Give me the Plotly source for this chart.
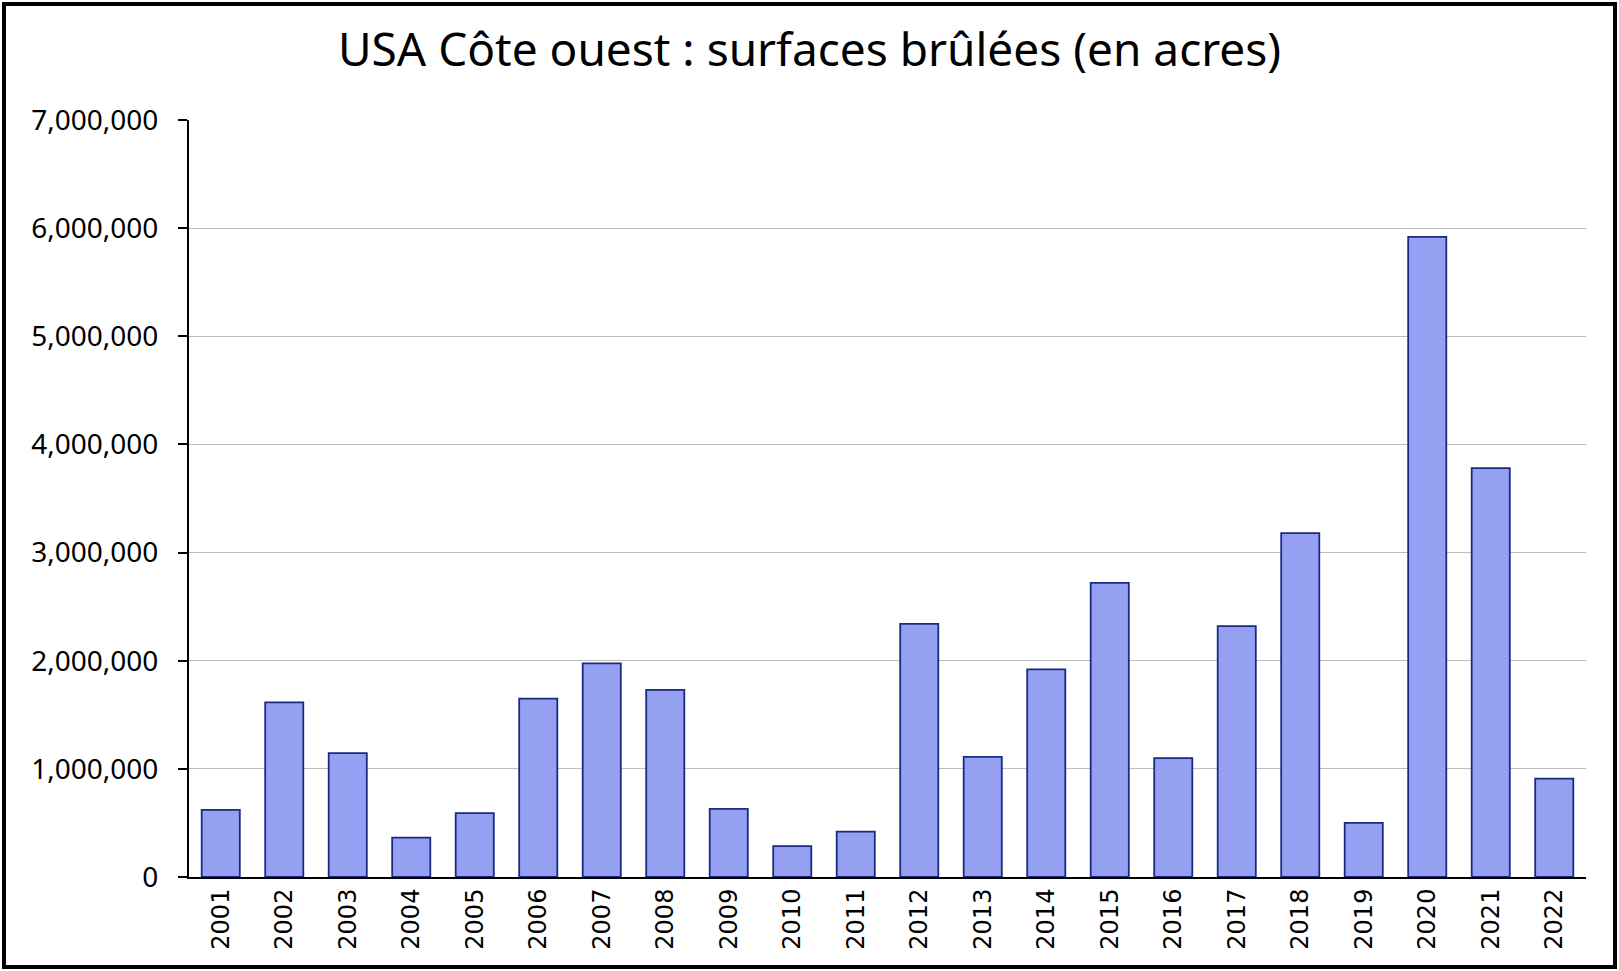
import plotly.graph_objects as go

# Surfaces brûlées sur la côte ouest des USA, en acres
years = [str(y) for y in range(2001, 2023)]
acres = [
    620000, 1615000, 1145000, 365000, 590000, 1650000, 1975000, 1730000,
    630000, 285000, 420000, 2340000, 1110000, 1920000, 2720000, 1100000,
    2320000, 3180000, 500000, 5920000, 3780000, 910000,
]
y_ticks = [0, 1000000, 2000000, 3000000, 4000000, 5000000, 6000000, 7000000]

W, H = 1619, 971
L, R, T, B = 189, 33, 120, 94
pw, ph = W - L - R, H - T - B

fig = go.Figure(go.Bar(
    x=years,
    y=acres,
    marker=dict(color="#95a0f2", line=dict(color="#1b2a80", width=1.8)),
))

fig.update_layout(
    width=W, height=H,
    margin=dict(l=L, r=R, t=T, b=B),
    paper_bgcolor="white",
    plot_bgcolor="white",
    bargap=0.4,
    showlegend=False,
    title=dict(
        text="USA Côte ouest : surfaces brûlées (en acres)",
        x=0.5, xanchor="center", y=1 - 50 / H, yanchor="middle",
        font=dict(family="Noto Sans", size=46, color="black"),
    ),
    font=dict(family="Noto Sans", color="black"),
)

fig.update_yaxes(
    range=[0, 7000000],
    tickvals=y_ticks,
    tickformat=",d",
    showgrid=True, gridcolor="#bdbdbd", gridwidth=1,
    showline=True, linecolor="black", linewidth=2,
    ticks="outside", ticklen=9, tickcolor="black", tickwidth=1.5,
    ticklabelstandoff=14,
    tickfont=dict(family="Noto Sans", size=28),
    zeroline=False,
)
fig.update_xaxes(
    tickangle=-90,
    showline=True, linecolor="black", linewidth=2,
    ticks="", tickfont=dict(family="DejaVu Sans", size=24),
)

# cadre noir autour de la figure
fig.add_shape(
    type="rect", xref="paper", yref="paper",
    x0=(4 - L) / pw, x1=(W - 4 - L) / pw,
    y0=-(B - 4) / ph, y1=1 + (T - 4) / ph,
    line=dict(color="black", width=4),
)

fig.write_html(
    "out.html",
    config={"displayModeBar": False},
    post_script="document.body.style.margin='0';document.body.style.overflow='hidden';",
)
